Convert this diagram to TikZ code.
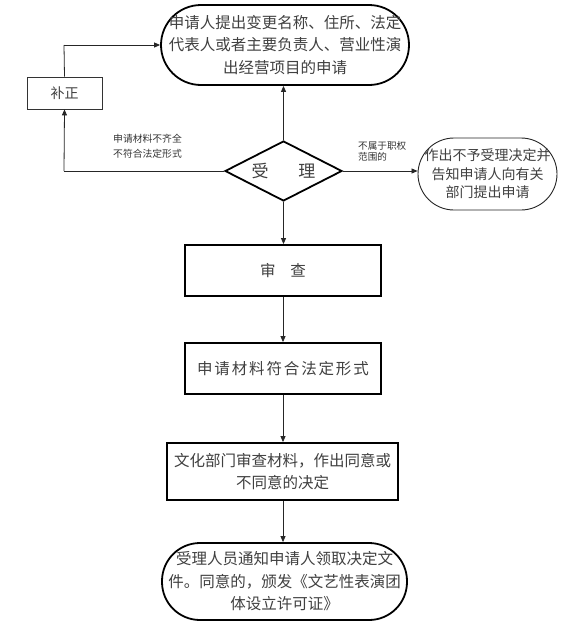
\documentclass[tikz,border=0pt]{standalone}
\usepackage{fontspec}
\setmainfont{Noto Sans CJK SC}
\newfontfamily\widecjk[LetterSpace=12]{Noto Sans CJK SC}
\usetikzlibrary{shapes.geometric,arrows.meta}
\tikzset{
  x=1pt,y=-1pt,
  term/.style={draw=black,line width=1.8pt,rounded corners=#1,inner sep=0pt,align=center,text=black!75,
    font=\fontsize{15.5}{22.5}\selectfont},
  boxn/.style={draw=black,line width=1.8pt,inner sep=0pt,align=center,text=black!75,
    font=\fontsize{15.5}{22.5}\selectfont},
  thinbox/.style={draw=black!80,line width=0.8pt,inner sep=0pt,align=center,text=black!75,
    font=\fontsize{14}{18}\selectfont},
  conn/.style={draw=black!85,line width=0.8pt,-{Triangle[length=6pt,width=5pt]}},
  plain/.style={draw=black!85,line width=0.8pt},
  small/.style={inner sep=0pt,align=left,text=black!80},
}
\begin{document}
\begin{tikzpicture}
\useasboundingbox (0,0) rectangle (577,629);
\fill[white] (0,0) rectangle (577,629);

\node[term=40pt,minimum width=248pt,minimum height=80pt] (top) at (285,45)
  {申请人提出变更名称、住所、法定\\代表人或者主要负责人、营业性演\\出经营项目的申请};
\node[thinbox,minimum width=75pt,minimum height=32pt] (fix) at (64.5,93) {补正};
\node[draw=black,line width=1.8pt,shape=diamond,aspect=1.95,minimum width=117pt,minimum height=60pt,
  inner sep=0pt,text=black!75,font=\fontsize{17}{20}\selectfont] (acc) at (283.5,171)
  {受\hspace{30pt}理};
\node[draw=black!85,line width=0.9pt,rounded corners=36pt,minimum width=139pt,minimum height=72pt,
  inner sep=0pt,align=center,text=black!75,font=\fontsize{14}{18.5}\selectfont] (rej) at (487.5,174)
  {作出不予受理决定并\\告知申请人向有关\\部门提出申请};
\node[boxn,minimum width=196pt,minimum height=51pt] (rev) at (283,270.5) {审\hspace{15pt}查};
\node[boxn,minimum width=196pt,minimum height=51pt] (form) at (283,368.5) {\widecjk 申请材料符合法定形式};
\node[boxn,minimum width=231pt,minimum height=57pt] (dept) at (282.5,471.5)
  {文化部门审查材料，作出同意或\\不同意的决定};
\node[term=38pt,minimum width=245pt,minimum height=77pt] (fin) at (284.5,581.5)
  {受理人员通知申请人领取决定文\\件。同意的，颁发《文艺性表演团\\体设立许可证》};

\node[small,font=\fontsize{9.8}{15}\selectfont,anchor=north west] (lab1) at (113,134) {申请材料不齐全\\不符合法定形式};
\node[small,font=\fontsize{9.6}{11.5}\selectfont,anchor=north west] (lab2) at (358,141) {不属于职权\\范围的};

\coordinate (c1) at (64,171);
\coordinate (c2) at (64,45);

\draw[conn] (acc.north) -- (acc.north |- top.south);
\draw[plain] (acc.west) -- (c1);
\draw[conn] (c1) -- (fix.south);
\draw[plain] (fix.north) -- (c2);
\draw[conn] (c2) -- (c2 -| top.west);
\draw[conn] (acc.east) -- (acc.east -| rej.west);
\draw[conn] (acc.south) -- (acc.south |- rev.north);
\draw[conn] (rev.south) -- (form.north);
\draw[conn] (form.south) -- (form.south |- dept.north);
\draw[conn] (dept.south -| form.south) -- (form.south |- fin.north);
\end{tikzpicture}
\end{document}
